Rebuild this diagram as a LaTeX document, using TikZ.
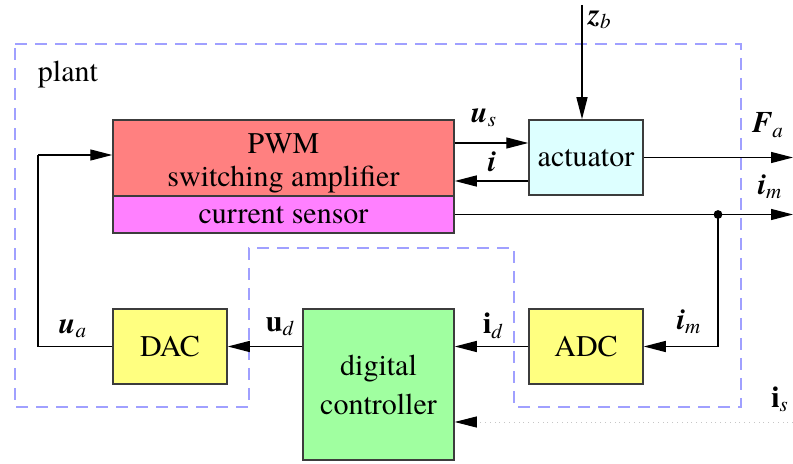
\documentclass[tikz,border=0pt]{standalone}
\usepackage{amsmath}
\usepackage{fontspec}
\setmainfont{texgyretermes}[Extension=.otf, UprightFont=*-regular,
  BoldFont=*-bold, ItalicFont=*-italic, BoldItalicFont=*-bolditalic]
\usetikzlibrary{arrows.meta}

% bold italic symbol with italic subscript, and bold upright variant
\newcommand{\bisym}[2]{$\textbf{\textit{#1}}_{\textit{#2}}$}
\newcommand{\busym}[2]{$\textbf{#1}_{\textit{#2}}$}

\definecolor{pwmred}{RGB}{255,128,128}
\definecolor{sensmag}{RGB}{255,128,255}
\definecolor{actcyan}{RGB}{221,255,255}
\definecolor{convyellow}{RGB}{255,255,128}
\definecolor{ctrlgreen}{RGB}{160,255,160}
\definecolor{plantblue}{RGB}{160,160,255}
\definecolor{boxedge}{RGB}{60,60,60}

\tikzset{
  blk/.style={draw=boxedge, line width=0.75pt, inner sep=0pt, align=center,
              font=\fontsize{15}{17}\selectfont},
  sig/.style={line width=0.65pt, -{Triangle[length=11pt,width=5.5pt]}},
  wire/.style={line width=0.65pt},
  lbl/.style={font=\fontsize{15}{17}\selectfont, inner sep=0pt},
  plantline/.style={draw=plantblue, line width=0.6pt, dash pattern=on 6pt off 4pt},
}

\begin{document}
\begin{tikzpicture}[x=0.5pt, y=-0.5pt]
\useasboundingbox (0,0) rectangle (793,464);

% plant boundary with the notch around the controller
\draw[plantline] (15,44) -- (741,44) -- (741,407) -- (514,407) -- (514,248)
  -- (249,248) -- (249,407) -- (15,407) -- cycle;
\node[lbl, anchor=center] (plant) at (68,75) {plant};

% blocks
\node[blk, fill=pwmred, minimum width=170.5pt, minimum height=38pt] (pwm)
      at (283.5,158) {};
\node[lbl, align=center, font=\fontsize{15}{16.5}\selectfont] (pwmtext)
      at ([yshift=-2.5pt]pwm.center) {PWM\\switching amplifier};
\node[blk, fill=sensmag, minimum width=170.5pt, minimum height=18.5pt] (sens)
      at (283.5,214.5) {current sensor};
\node[blk, fill=actcyan, minimum width=57pt, minimum height=37.5pt] (act)
      at (586,157.5) {actuator};
\node[blk, fill=convyellow, minimum width=57pt, minimum height=37.5pt] (dac)
      at (170,346.5) {DAC};
\node[blk, fill=convyellow, minimum width=57pt, minimum height=37.5pt] (adc)
      at (586,346.5) {ADC};
\node[blk, fill=ctrlgreen, minimum width=75.5pt, minimum height=75.5pt,
      font=\fontsize{15}{19.5}\selectfont] (ctrl) at (378.5,384.5)
      {digital\\controller};

% helper coordinates
\coordinate (usy) at (0,143);
\coordinate (iy) at (0,181);
\coordinate (zbtop) at (582,5);
\coordinate (rightedge) at (793,0);
\coordinate (tap) at (718,0);
\coordinate (fb) at (38,155);
\coordinate (isstart) at (793,422);

% amplifier <-> actuator
\draw[sig] (pwm.east |- usy) -- (act.west |- usy);
\draw[sig] (act.west |- iy) -- (pwm.east |- iy);
% disturbance input
\draw[sig] (zbtop) -- (zbtop |- act.north);
% force output
\draw[sig] (act.east) -- (act.east -| rightedge);
% measured current output and tap
\draw[sig] (sens.east) -- (sens.east -| rightedge);
\fill (sens.east -| tap) coordinate (dot) circle (2.2pt);
\draw[sig] (dot) |- (adc.east);
% converters and controller
\draw[sig] (adc.west) -- (adc.west -| ctrl.east);
\draw[sig] (ctrl.west |- dac.east) -- (dac.east);
\draw[wire] (dac.west) -| (fb);
\draw[sig] (fb) -- (fb -| pwm.west);
% setpoint input
\draw[line width=0.4pt, gray!45, dotted, -{Triangle[length=11pt,width=5.5pt,color=black]}]
  (isstart) -- (isstart -| ctrl.east);

% signal labels
\node[lbl] (lus) at (484,118) {\bisym{u}{s}};
\node[lbl] (li) at (492,162) {$\textbf{\textit{i}}$};
\node[lbl] (lzb) at (600,20) {\bisym{z}{b}};
\node[lbl] (lfa) at (768,125) {\bisym{F}{a}};
\node[lbl] (lim) at (770,187) {\bisym{i}{m}};
\node[lbl] (lim2) at (689,322) {\bisym{i}{m}};
\node[lbl] (lid) at (493,326) {\busym{i}{d}};
\node[lbl] (lud) at (280,327) {\busym{u}{d}};
\node[lbl] (lua) at (73,329) {\bisym{u}{a}};
\node[lbl] (lis) at (780,399) {\busym{i}{s}};
\end{tikzpicture}
\end{document}
